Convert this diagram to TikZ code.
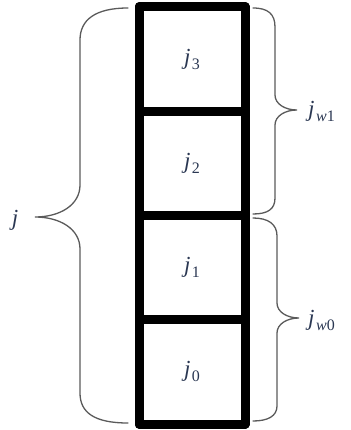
\documentclass[tikz,border=0pt]{standalone}
\usepackage{fontspec}
\setmainfont{Liberation Serif}
\usepackage{xcolor}
\definecolor{labelc}{HTML}{2A3752}
\definecolor{bracec}{HTML}{5A5A5A}
\newcommand{\jsub}[1]{\textit{j}\kern1.5pt\raisebox{-5pt}{\fontsize{16}{18}\selectfont #1}}
\begin{document}
\begin{tikzpicture}[x=1pt,y=-1pt,
  cell/.style={draw=black,line width=9pt,minimum width=106pt,minimum height=104.25pt,inner sep=0pt,outer sep=0pt,line join=round,
    font=\fontsize{23}{26}\selectfont,text=labelc},
  lbl/.style={font=\fontsize{23}{26}\selectfont,text=labelc,inner sep=0pt},
  brace/.style={draw=bracec,line width=1.3pt,line cap=round}]
\useasboundingbox (0,0) rectangle (350,430);
% cells
\node[cell] (c3) at (192,59.1) {\jsub{3}};
\node[cell] (c2) at (192,163.4) {\jsub{2}};
\node[cell] (c1) at (192,267.6) {\jsub{1}};
\node[cell] (c0) at (192,371.9) {\jsub{0}};
% redraw outer frame for clean corners
\draw[line width=9pt,line join=round] (c3.north west) rectangle (c0.south east);
\foreach \a/\b in {c3/c2,c2/c1,c1/c0}{\draw[line width=9pt] (\a.south west) -- (\a.south east);}
% left brace
\coordinate (lt) at (128,8);
\coordinate (ltip) at (35,217);
\coordinate (lb) at (128,423);
\draw[brace] (lt) .. controls (95,8) and (80,20) .. (80,40) -- (80,185)
  .. controls (80,205) and (60,217) .. (ltip)
  .. controls (60,217) and (80,229) .. (80,249) -- (80,393)
  .. controls (80,413) and (95,423) .. (lb);
\node[lbl] (j) at (15,220) {\textit{j}};
% right brace 1
\coordinate (r1t) at (253,8);
\coordinate (r1tip) at (297,110);
\coordinate (r1b) at (253,214);
\draw[brace] (r1t) .. controls (268,8) and (275,14) .. (275,27) -- (275,95)
  .. controls (275,104) and (285,110) .. (r1tip)
  .. controls (285,110) and (275,116) .. (275,125) -- (275,198)
  .. controls (275,209) and (268,214) .. (r1b);
\node[lbl,anchor=west] (jw1) at (308,111) {\jsub{\textit{w}1}};
% right brace 2
\coordinate (r2t) at (253,218);
\coordinate (r2tip) at (299,318);
\coordinate (r2b) at (253,421);
\draw[brace] (r2t) .. controls (268,218) and (277,224) .. (277,236) -- (277,303)
  .. controls (277,312) and (287,318) .. (r2tip)
  .. controls (287,318) and (277,324) .. (277,333) -- (277,406)
  .. controls (277,416) and (268,421) .. (r2b);
\node[lbl,anchor=west] (jw0) at (308,320) {\jsub{\textit{w}0}};
\end{tikzpicture}
\end{document}
